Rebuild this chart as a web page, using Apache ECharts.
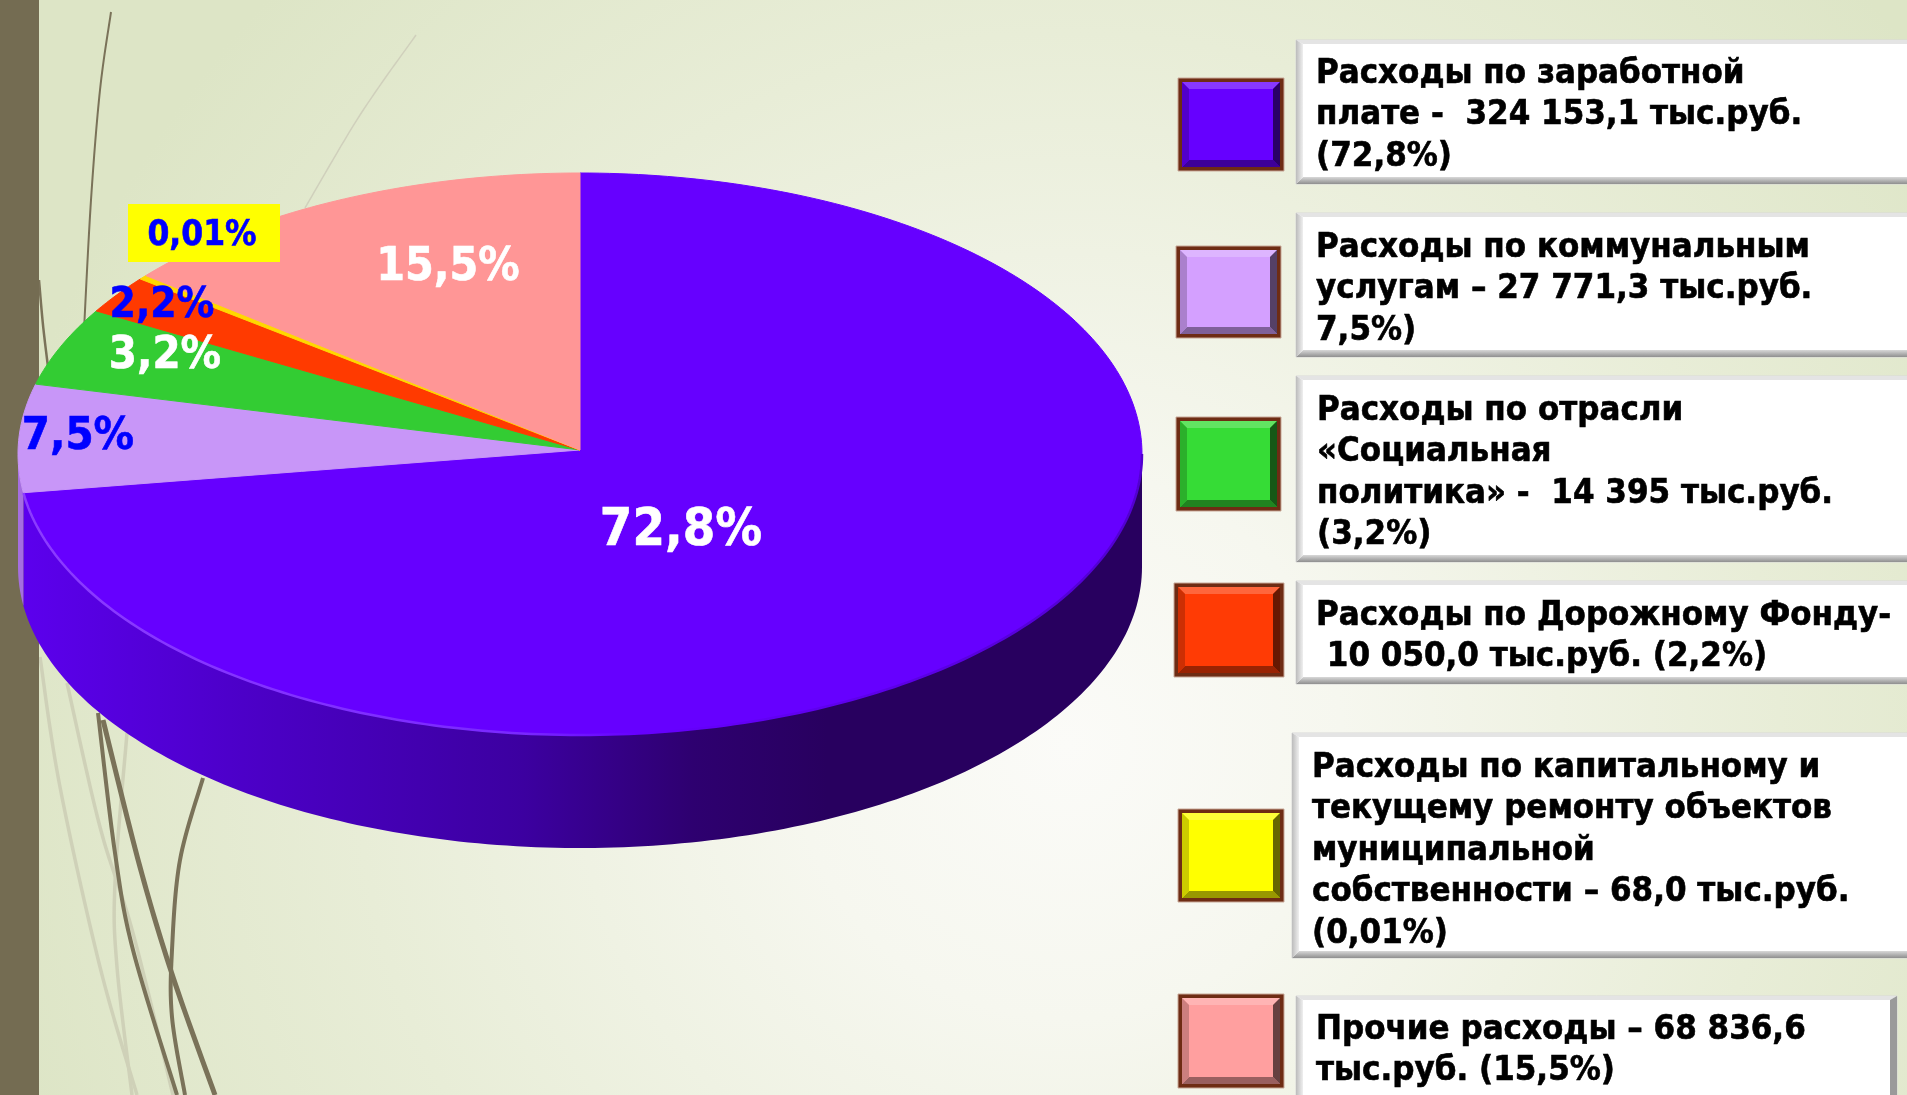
<!DOCTYPE html>
<html>
<head>
<meta charset="utf-8">
<title>Расходы</title>
<style>
  html, body { margin: 0; padding: 0; overflow: hidden; background: #f4f6ea; }
  #chart { width: 1907px; height: 1095px; }
</style>
<script src="https://cdn.jsdelivr.net/npm/echarts@6/dist/echarts.min.js"></script>
</head>
<body>
<div id="chart"></div>
<script>
// slice shares as drawn in the picture (clockwise from 12 o'clock)
const sliceNames = ['Заработная плата', 'Коммунальные услуги', 'Социальная политика', 'Дорожный фонд', 'Капитальный ремонт', 'Прочие расходы'];
const sliceShares = [72.8, 6.2, 4.5, 2.2, 0.25, 14.05];
const sliceLabels = ['72,8%', '7,5%', '3,2%', '2,2%', '0,01%', '15,5%'];
const sliceColors = ['#6600ff', '#c896f8', '#33cc33', '#ff3a00', '#ffd800', '#ff9696'];
const swatchColors = ['#6600ff', '#d4a0ff', '#36dc36', '#ff3b05', '#ffff00', '#ff9f9f'];
const legendTexts = [
  ['Расходы по заработной', 'плате -  324 153,1 тыс.руб.', '(72,8%)'],
  ['Расходы по коммунальным', 'услугам – 27 771,3 тыс.руб.', '7,5%)'],
  ['Расходы по отрасли', '«Социальная', 'политика» -  14 395 тыс.руб.', '(3,2%)'],
  ['Расходы по Дорожному Фонду-', ' 10 050,0 тыс.руб. (2,2%)'],
  ['Расходы по капитальному и', 'текущему ремонту объектов', 'муниципальной', 'собственности – 68,0 тыс.руб.', '(0,01%)'],
  ['Прочие расходы – 68 836,6', 'тыс.руб. (15,5%)']
];

// layout
const pie = { cx: 580, cy: 454, rx: 562, ry: 281, apexY: 450, depth: 113 };
const labelLayout = [
  { x: 681, y: 531, size: 52, color: '#fff' },
  { x: 78, y: 437, size: 45, color: '#0000ff' },
  { x: 165, y: 356, size: 45, color: '#fff' },
  { x: 162, y: 306, size: 42, color: '#0000ff' },
  { x: 202, y: 236, size: 35, color: '#0000ff', box: [128, 204, 152, 58] },
  { x: 448, y: 268, size: 46, color: '#fff' }
];
const swatchBoxes = [
  [1178, 78, 106, 93], [1176, 246, 105, 92], [1176, 417, 105, 94],
  [1174, 583, 110, 94], [1178, 809, 106, 93], [1178, 994, 106, 94]
];
const legendBoxes = [
  [1296, 40, 620, 144], [1296, 213, 620, 144], [1296, 376, 620, 186],
  [1296, 581, 620, 103], [1292, 733, 624, 225], [1296, 996, 601, 110]
];
const legendTextPos = [[1316, 74], [1316, 248], [1317, 411], [1316, 616], [1312, 768], [1316, 1030]];
const FONT = '"DejaVu Sans Condensed", "DejaVu Sans", sans-serif';

const sliceRanges = [];
let acc = 0;
sliceShares.forEach(function (v) {
  sliceRanges.push([acc, acc + v]);
  acc += v;
});
const shareTotal = acc;

function rimPoint(deg, dy) {
  const t = deg * Math.PI / 180;
  return [pie.cx + pie.rx * Math.sin(t), pie.cy - pie.ry * Math.cos(t) + (dy || 0)];
}
function rimPoints(a, b, dy) {
  const pts = [];
  const n = Math.max(2, Math.ceil(Math.abs(b - a)));
  for (let i = 0; i <= n; i++) {
    pts.push(rimPoint(a + (b - a) * i / n, dy));
  }
  return pts;
}
function toDeg(share) {
  return share / shareTotal * 360;
}

function renderTop(params, api) {
  const a = toDeg(api.value(0));
  const b = toDeg(api.value(1));
  const points = [[pie.cx, pie.apexY]].concat(rimPoints(a, b));
  const color = sliceColors[params.dataIndex];
  return {
    type: 'polygon',
    shape: { points: points },
    style: { fill: color, stroke: color, lineWidth: 1 }
  };
}

// only the front half of the rim shows a side wall
function renderWall(params, api) {
  const a = Math.max(toDeg(api.value(0)), 90);
  const b = Math.min(toDeg(api.value(1)), 270);
  if (b <= a) return null;
  const points = rimPoints(a, b).concat(rimPoints(b, a, pie.depth));
  let fill = '#a56ee0';
  if (params.dataIndex === 0) {
    fill = {
      type: 'linear', x: pie.cx - pie.rx, y: 0, x2: pie.cx + pie.rx, y2: 0, global: true,
      colorStops: [
        { offset: 0, color: '#5c00ee' },
        { offset: 0.2, color: '#4c00c8' },
        { offset: 0.45, color: '#3c00a0' },
        { offset: 0.6, color: '#2e0070' },
        { offset: 0.72, color: '#28005f' },
        { offset: 1, color: '#28005f' }
      ]
    };
  }
  return { type: 'polygon', shape: { points: points }, style: { fill: fill } };
}

function renderLabel(params, api) {
  const l = labelLayout[params.dataIndex];
  const children = [];
  if (l.box) {
    children.push({
      type: 'rect',
      shape: { x: l.box[0], y: l.box[1], width: l.box[2], height: l.box[3] },
      style: { fill: '#ffff00' }
    });
  }
  children.push({
    type: 'text',
    style: {
      x: l.x, y: l.y, text: sliceLabels[params.dataIndex], fill: l.color,
      stroke: l.color, lineWidth: 0.6,
      font: 'bold ' + l.size + 'px ' + FONT, align: 'center', verticalAlign: 'middle'
    }
  });
  return { type: 'group', children: children };
}

// decorative grass strokes of the slide background
const grass = [
  { c: '#7a7259', w: 2, p: [[111, 12], [100, 90], [91, 200], [84, 330]] },
  { c: '#d0d0bc', w: 1.5, p: [[416, 35], [360, 115], [305, 208]] },
  { c: '#7a7259', w: 2.5, p: [[39, 280], [43, 325], [48, 367]] },
  { c: '#cfd1b8', w: 3.5, p: [[40, 657], [60, 787], [100, 967], [137, 1095]] },
  { c: '#cfd1b8', w: 3.5, p: [[67, 683], [100, 827], [133, 933], [173, 1095]] },
  { c: '#cfd1b8', w: 3.5, p: [[127, 733], [115, 883], [117, 967], [132, 1095]] },
  { c: '#7a7259', w: 4, p: [[98, 713], [115, 853], [133, 950], [177, 1095]] },
  { c: '#7a7259', w: 5, p: [[103, 720], [140, 867], [173, 977], [215, 1095]] },
  { c: '#7a7259', w: 4, p: [[203, 778], [180, 860], [172, 950], [172, 1017], [185, 1095]] }
];

// catmull-rom, the built in smooth option leaves kinks on these few points
function curvePoints(p) {
  const out = [];
  for (let i = 0; i < p.length - 1; i++) {
    const p0 = p[Math.max(i - 1, 0)], p1 = p[i], p2 = p[i + 1], p3 = p[Math.min(i + 2, p.length - 1)];
    for (let k = 0; k < 16; k++) {
      const t = k / 16;
      out.push([0, 1].map(function (d) {
        return 0.5 * (2 * p1[d] + (p2[d] - p0[d]) * t
          + (2 * p0[d] - 5 * p1[d] + 4 * p2[d] - p3[d]) * t * t
          + (3 * p1[d] - p0[d] - 3 * p2[d] + p3[d]) * t * t * t);
      }));
    }
  }
  out.push(p[p.length - 1]);
  return out;
}

// mix a #rrggbb colour towards white (amt > 0) or black (amt < 0)
function shade(hex, amt) {
  const target = amt > 0 ? 255 : 0;
  const k = Math.abs(amt);
  const parts = [1, 3, 5].map(function (i) {
    const c = parseInt(hex.substr(i, 2), 16);
    return Math.round(c + (target - c) * k);
  });
  return 'rgb(' + parts.join(',') + ')';
}

const graphics = [
  {
    type: 'rect', z: -10, silent: true,
    shape: { x: 0, y: 0, width: 1907, height: 1095 },
    style: {
      fill: {
        type: 'radial', x: 0.56, y: 0.68, r: 1,
        colorStops: [
          { offset: 0, color: '#fbfbf8' },
          { offset: 0.25, color: '#f6f7ef' },
          { offset: 0.65, color: '#e8edd7' },
          { offset: 1, color: '#dde5c6' }
        ]
      }
    }
  },
  { type: 'rect', z: -5, silent: true, shape: { x: 0, y: 0, width: 39, height: 1095 }, style: { fill: '#746c52' } }
];
grass.forEach(function (g) {
  graphics.push({
    type: 'polyline', z: -6, silent: true,
    shape: { points: curvePoints(g.p) },
    style: { stroke: g.c, lineWidth: g.w, fill: null }
  });
});

function poly(points, fill) {
  return { type: 'polygon', z: 5, silent: true, shape: { points: points }, style: { fill: fill } };
}

function addSwatch(box, color) {
  const x = box[0], y = box[1], w = box[2], h = box[3];
  const b = 4, s = 7;
  const ix = x + b, iy = y + b, iw = w - 2 * b, ih = h - 2 * b;
  graphics.push({ type: 'rect', z: 5, silent: true, shape: { x: x, y: y, width: w, height: h }, style: { fill: '#6e2c14', stroke: '#c8a898', lineWidth: 1 } });
  graphics.push({ type: 'rect', z: 5, silent: true, shape: { x: ix, y: iy, width: iw, height: ih }, style: { fill: color } });
  graphics.push(poly([[ix, iy], [ix + iw, iy], [ix + iw - s, iy + s], [ix + s, iy + s]], shade(color, 0.22)));
  graphics.push(poly([[ix, iy + ih], [ix + iw, iy + ih], [ix + iw - s, iy + ih - s], [ix + s, iy + ih - s]], shade(color, -0.4)));
  graphics.push(poly([[ix + iw, iy], [ix + iw, iy + ih], [ix + iw - s, iy + ih - s], [ix + iw - s, iy + s]], shade(color, -0.6)));
  graphics.push(poly([[ix, iy], [ix, iy + ih], [ix + s, iy + ih - s], [ix + s, iy + s]], shade(color, -0.2)));
}

function addLegendBox(box) {
  const x = box[0], y = box[1], w = box[2], h = box[3];
  const s = 7;
  graphics.push({ type: 'rect', z: 5, silent: true, shape: { x: x, y: y, width: w, height: h }, style: { fill: '#ffffff', stroke: '#d8d8d8', lineWidth: 1 } });
  graphics.push(poly([[x, y], [x + w, y], [x + w - s, y + 4], [x + s, y + 4]], '#e4e4e4'));
  graphics.push(poly([[x, y + h], [x + w, y + h], [x + w - s, y + h - s], [x + s, y + h - s]], {
    type: 'linear', x: 0, y: 0, x2: 0, y2: 1,
    colorStops: [{ offset: 0, color: '#d8d8d8' }, { offset: 1, color: '#8f8f8f' }]
  }));
  graphics.push(poly([[x, y], [x, y + h], [x + s, y + h - s], [x + s, y + 4]], {
    type: 'linear', x: 0, y: 0, x2: 1, y2: 0,
    colorStops: [{ offset: 0, color: '#bcbcbc' }, { offset: 1, color: '#efefef' }]
  }));
  graphics.push(poly([[x + w, y], [x + w, y + h], [x + w - s, y + h - s], [x + w - s, y + 4]], '#9a9a9a'));
}

swatchBoxes.forEach(function (b, i) { addSwatch(b, swatchColors[i]); });
legendBoxes.forEach(addLegendBox);
legendTexts.forEach(function (lines, i) {
  graphics.push({
    type: 'text', z: 6, silent: true,
    style: {
      x: legendTextPos[i][0], y: legendTextPos[i][1] - 21,
      text: lines.join('\n'), fill: '#000', stroke: '#000', lineWidth: 0.6,
      font: 'bold 34.5px ' + FONT, lineHeight: 41.5, align: 'left', verticalAlign: 'top'
    }
  });
});

const chart = echarts.init(document.getElementById('chart'));
chart.setOption({
  animation: false,
  graphic: graphics,
  series: [
    {
      type: 'custom', name: 'Боковая стенка', coordinateSystem: 'none', silent: true, z: 2,
      renderItem: renderWall,
      data: sliceRanges
    },
    {
      type: 'custom', name: 'Расходы', coordinateSystem: 'none', silent: true, z: 4,
      renderItem: renderTop,
      data: sliceRanges.map(function (r, i) { return { name: sliceNames[i], value: r }; })
    },
    {
      type: 'custom', name: 'Кромка', coordinateSystem: 'none', silent: true, z: 5,
      renderItem: function () {
        return {
          type: 'polyline',
          shape: { points: rimPoints(262, 90) },
          style: {
            fill: null, lineWidth: 2.5,
            stroke: {
              type: 'linear', x: pie.cx - pie.rx, y: 0, x2: pie.cx + pie.rx, y2: 0, global: true,
              colorStops: [
                { offset: 0, color: '#8c3cff' },
                { offset: 0.45, color: '#7a28ff' },
                { offset: 0.55, color: '#6600ff' },
                { offset: 1, color: '#5200d0' }
              ]
            }
          }
        };
      },
      data: [0]
    },
    {
      type: 'custom', name: 'Подписи', coordinateSystem: 'none', silent: true, z: 7,
      renderItem: renderLabel,
      data: sliceRanges
    }
  ]
});
</script>
</body>
</html>
